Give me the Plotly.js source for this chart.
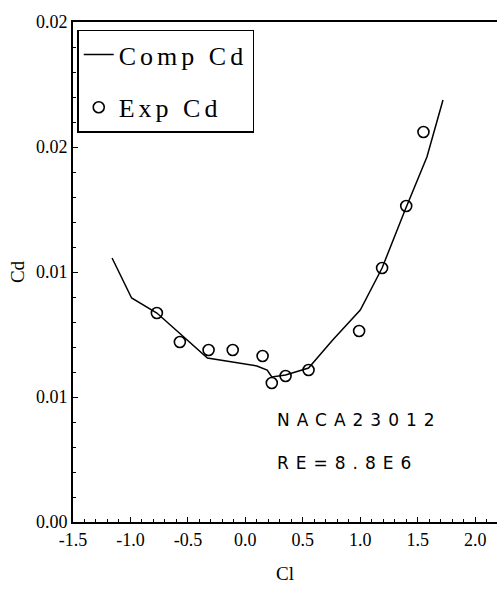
<!DOCTYPE html>
<html>
<head>
<meta charset="utf-8">
<script src="https://cdn.plot.ly/plotly-3.0.1.min.js"></script>
<style>
html,body{margin:0;padding:0;background:#fff;}
#chart{width:498px;height:600px;}
.annotation-text{letter-spacing:7px;}
.legendtext{letter-spacing:4px;}
</style>
</head>
<body>
<div id="chart"></div>
<script>
// Computed drag polar (line)
const compCl = [-1.16, -0.99, -0.77, -0.33, 0.10, 0.19, 0.23, 0.35, 0.55, 0.76, 1.00, 1.19, 1.39, 1.58, 1.72];
const compCd = [0.01056, 0.00896, 0.00836, 0.00656, 0.00624, 0.00608, 0.00580, 0.00588, 0.00616, 0.00728, 0.00848, 0.01016, 0.01248, 0.01460, 0.01688];
// Experimental drag (circles)
const expCl = [-0.77, -0.57, -0.32, -0.11, 0.15, 0.23, 0.35, 0.55, 0.99, 1.19, 1.40, 1.55];
const expCd = [0.00836, 0.00720, 0.00688, 0.00688, 0.00664, 0.00556, 0.00584, 0.00608, 0.00764, 0.01016, 0.01264, 0.01560];
// Tick labels
const xTickVals = [-1.5, -1.0, -0.5, 0.0, 0.5, 1.0, 1.5, 2.0];
const xTickText = ['-1.5', '-1.0', '-0.5', '0.0', '0.5', '1.0', '1.5', '2.0'];
const yTickVals = [0, 0.005, 0.01, 0.015, 0.02];
const yTickText = ['0.00', '0.01', '0.01', '0.02', '0.02'];
const labels = ['NACA23012', 'RE=8.8E6'];

const serif = 'Liberation Serif, DejaVu Serif, serif';

const traces = [
  {
    x: compCl, y: compCd, mode: 'lines', name: 'Comp Cd',
    line: {color: '#000', width: 1.5}, legendgroup: 'a'
  },
  {
    x: expCl, y: expCd, mode: 'markers', name: 'Exp Cd',
    marker: {symbol: 'circle-open', size: 11, color: '#000', line: {width: 1.6, color: '#000'}},
    legendgroup: 'b'
  }
];

const layout = {
  width: 498, height: 600,
  margin: {l: 73, r: 1, t: 22, b: 78},
  paper_bgcolor: '#fff', plot_bgcolor: '#fff',
  showlegend: true,
  legend: {
    x: 0.01, y: 0.985, xanchor: 'left', yanchor: 'top',
    bgcolor: '#fff', bordercolor: '#000', borderwidth: 1.5,
    font: {family: serif, size: 26, color: '#000'},
    traceorder: 'grouped', tracegroupgap: 16,
    itemwidth: 30
  },
  xaxis: {
    range: [-1.5, 2.19],
    tickvals: xTickVals, ticktext: xTickText,
    ticks: 'inside', ticklen: 5, tickcolor: '#000',
    showline: true, linecolor: '#000', linewidth: 2, mirror: true,
    showgrid: false, zeroline: false,
    tickfont: {family: serif, size: 18, color: '#000'},
    title: {text: 'Cl', font: {family: serif, size: 19, color: '#000'}, standoff: 18},
    minor: {dtick: 0.1, ticks: 'inside', ticklen: 3, tickcolor: '#000'}
  },
  yaxis: {
    range: [0, 0.02],
    tickvals: yTickVals, ticktext: yTickText,
    ticks: 'inside', ticklen: 5, tickcolor: '#000',
    showline: true, linecolor: '#000', linewidth: 2,
    showgrid: false, zeroline: false,
    tickfont: {family: serif, size: 18, color: '#000'},
    title: {text: 'Cd', font: {family: serif, size: 19, color: '#000'}},
    minor: {dtick: 0.001, ticks: 'inside', ticklen: 3, tickcolor: '#000'}
  },
  annotations: [
    {x: 0.26, y: 0.0041, xref: 'x', yref: 'y', text: labels[0], showarrow: false,
     xanchor: 'left', font: {family: 'DejaVu Sans, sans-serif', size: 17, color: '#000'}},
    {x: 0.26, y: 0.00235, xref: 'x', yref: 'y', text: labels[1], showarrow: false,
     xanchor: 'left', font: {family: 'DejaVu Sans, sans-serif', size: 17, color: '#000'}}
  ]
};

Plotly.newPlot('chart', traces, layout, {displayModeBar: false, staticPlot: true});
</script>
</body>
</html>
